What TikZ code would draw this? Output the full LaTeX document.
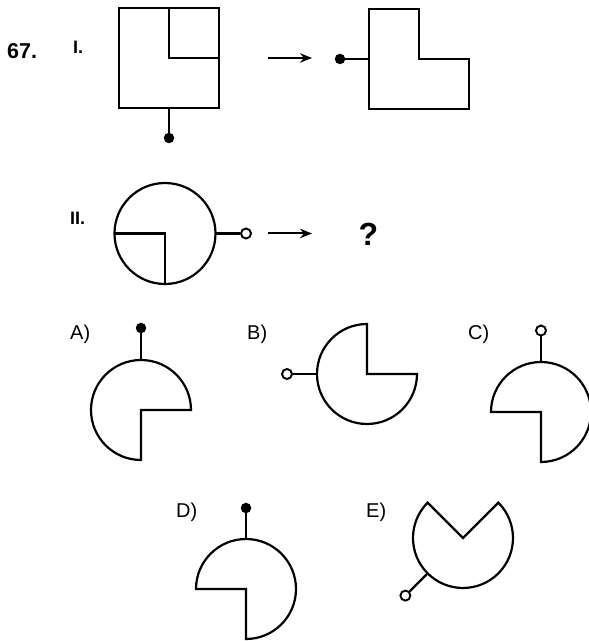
\documentclass[tikz,border=0pt]{standalone}
\usepackage{fontspec}
\setmainfont{Liberation Sans}
\usetikzlibrary{arrows.meta}

\begin{document}
\begin{tikzpicture}[x=1pt, y=1pt,
    figline/.style={draw=black, line width=2.2pt},
    knob/.style={circle, fill=black, inner sep=0pt, minimum size=10.5pt},
    ring/.style={circle, draw=black, fill=white, line width=1.9pt, inner sep=0pt, minimum size=10pt},
    optlabel/.style={font=\fontsize{20}{20}\selectfont, anchor=base west, inner sep=0pt},
    numlabel/.style={font=\fontsize{18}{18}\selectfont\bfseries, anchor=base west, inner sep=0pt},
    goes/.style={line width=2pt, -{Stealth[length=12pt, width=9.5pt]}}]
    \useasboundingbox (0,0) rectangle (589,641);
    % Problem number and row labels
    \node[numlabel, font=\fontsize{21.5}{21.5}\selectfont\bfseries] (num) at (7,582) {67.};
    \node[numlabel] (rowI) at (73,587) {I.};
    \node[numlabel] (rowII) at (70,416) {II.};
    % Row I: square with corner square
    \draw[figline] (119,533) rectangle (219,633);
    \draw[figline] (169,633) -- (169,583) -- (219,583);
    \coordinate (sqbot) at (169,533);
    \node[knob] (sqdot) at (169,503) {};
    \draw[figline] (sqbot) -- (sqdot);
    \coordinate (arIs) at (268,583);
    \coordinate (arIe) at (312,583);
    \draw[goes] (arIs) -- (arIe);
    % Row I: L-shape
    \draw[figline] (369,532) -- (369,632) -- (419,632) -- (419,582)
      -- (469,582) -- (469,532) -- cycle;
    \coordinate (lleft) at (369,582);
    \node[knob] (ldot) at (340,582) {};
    \draw[figline] (lleft) -- (ldot);
    % Row II: circle with quarter
    \draw[figline] (165,407.5) circle[radius=50.5];
    \draw[figline] (114.5,407.5) -- (165,407.5) -- (165,357);
    \coordinate (cright) at (215.5,407.5);
    \node[ring] (cring) at (246,407.5) {};
    \draw[figline] (cright) -- (cring);
    \coordinate (arIIs) at (268,407.5);
    \coordinate (arIIe) at (312,407.5);
    \draw[goes] (arIIs) -- (arIIe);
    \node[font=\fontsize{32}{32}\selectfont\bfseries, anchor=base, inner sep=0pt]
      (ask) at (368.5,395) {?};
    % Answer shapes (centre / start / end angle)
    \foreach \cx/\cy/\sa/\ea in {141/231/0/270, 367/267/90/360, 541/229/-90/180,
                                 246/52/-90/180, 463/103/135/405}
      \draw[figline, fill=white] (\cx,\cy) ++(\sa:50)
        arc[start angle=\sa, end angle=\ea, radius=50] -- (\cx,\cy) -- cycle;
    \foreach \nm/\x/\y in {A/70/301, B/247/301, C/468/301, D/176/123, E/366/123}
      \node[optlabel] (lbl\nm) at (\x,\y) {\nm)};
    % Stems
    \coordinate (topA) at (141,281);
    \node[knob] (dotA) at (141,313) {};
    \draw[figline] (topA) -- (dotA);
    \coordinate (leftB) at (317,267);
    \node[ring] (ringB) at (287,267) {};
    \draw[figline] (leftB) -- (ringB);
    \coordinate (topC) at (541,279);
    \node[ring] (ringC) at (541,310.5) {};
    \draw[figline] (topC) -- (ringC);
    \coordinate (topD) at (246,102);
    \node[knob] (dotD) at (246,133) {};
    \draw[figline] (topD) -- (dotD);
    \coordinate (stemE) at (427.6,67.6);
    \node[ring] (ringE) at (405.4,45.4) {};
    \draw[figline] (stemE) -- (ringE);
\end{tikzpicture}
\end{document}
